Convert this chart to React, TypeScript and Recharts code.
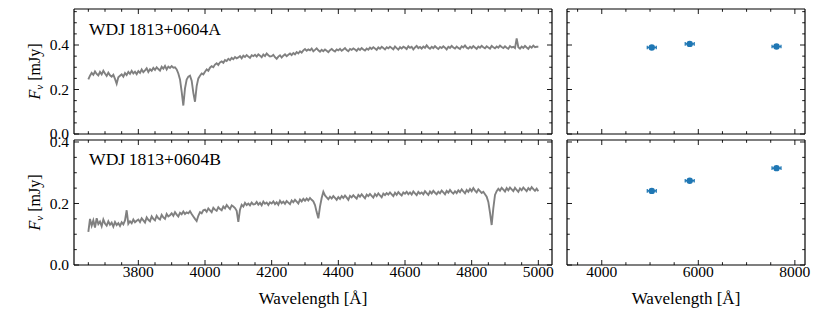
import React from "react";
import { LineChart, Line, ScatterChart, Scatter, XAxis, YAxis } from "recharts";

const FONT = "'Liberation Serif', 'Times New Roman', serif";
const GREY = "#808080";
const BLUE = "#1f77b4";

// Spectra sampled on a uniform grid: 3650 Å + 5 Å * i
const WL_START = 3650;
const WL_STEP = 5;

const fluxA = [
  0.245, 0.262, 0.275, 0.266, 0.281, 0.270, 0.263, 0.279, 0.268, 0.284,
  0.272, 0.261, 0.276, 0.264, 0.258, 0.266, 0.248, 0.226, 0.255, 0.262,
  0.268, 0.258, 0.274, 0.265, 0.279, 0.270, 0.284, 0.272, 0.280, 0.269,
  0.283, 0.275, 0.290, 0.278, 0.286, 0.295, 0.279, 0.291, 0.284, 0.297,
  0.288, 0.300, 0.292, 0.285, 0.302, 0.294, 0.306, 0.290, 0.303, 0.297,
  0.305, 0.298, 0.300, 0.290, 0.272, 0.245, 0.190, 0.128, 0.205, 0.245,
  0.258, 0.262, 0.240, 0.185, 0.145, 0.215, 0.250, 0.262, 0.272, 0.268,
  0.280, 0.290, 0.284, 0.298, 0.305, 0.300, 0.312, 0.318, 0.310, 0.322,
  0.326, 0.320, 0.332, 0.328, 0.338, 0.332, 0.342, 0.336, 0.346, 0.340,
  0.344, 0.350, 0.340, 0.352, 0.346, 0.355, 0.348, 0.342, 0.354, 0.350,
  0.356, 0.348, 0.358, 0.352, 0.345, 0.357, 0.350, 0.362, 0.354, 0.348,
  0.350, 0.356, 0.345, 0.338, 0.348, 0.354, 0.344, 0.352, 0.358, 0.350,
  0.356, 0.362, 0.355, 0.364, 0.358, 0.368, 0.362, 0.372, 0.366, 0.376,
  0.382, 0.374, 0.380, 0.376, 0.384, 0.372, 0.378, 0.385, 0.376, 0.370,
  0.378, 0.372, 0.380, 0.374, 0.368, 0.377, 0.382, 0.375, 0.371, 0.380,
  0.376, 0.383, 0.374, 0.380, 0.386, 0.377, 0.372, 0.382, 0.378, 0.385,
  0.380, 0.374, 0.384, 0.378, 0.386, 0.380, 0.375, 0.384, 0.379, 0.388,
  0.382, 0.390, 0.384, 0.378, 0.389, 0.383, 0.392, 0.386, 0.380, 0.390,
  0.385, 0.392, 0.387, 0.381, 0.393, 0.386, 0.379, 0.390, 0.384, 0.392,
  0.388, 0.382, 0.394, 0.387, 0.392, 0.380, 0.389, 0.396, 0.386, 0.391,
  0.384, 0.393, 0.387, 0.398, 0.389, 0.383, 0.392, 0.386, 0.395, 0.388,
  0.382, 0.391, 0.386, 0.394, 0.388, 0.380, 0.392, 0.387, 0.396, 0.389,
  0.384, 0.393, 0.387, 0.382, 0.394, 0.389, 0.398, 0.388, 0.384, 0.392,
  0.386, 0.395, 0.389, 0.383, 0.393, 0.388, 0.396, 0.390, 0.385, 0.394,
  0.389, 0.384, 0.396, 0.390, 0.385, 0.393, 0.388, 0.397, 0.391, 0.386,
  0.394, 0.388, 0.383, 0.395, 0.389, 0.392, 0.386, 0.430, 0.390, 0.384,
  0.393, 0.387, 0.396, 0.389, 0.383, 0.394, 0.388, 0.397, 0.390, 0.392,
  0.392,
];

const fluxB = [
  0.108, 0.150, 0.128, 0.145, 0.122, 0.152, 0.133, 0.141, 0.126, 0.148,
  0.135, 0.128, 0.142, 0.131, 0.138, 0.125, 0.140, 0.130, 0.136, 0.127,
  0.139, 0.132, 0.145, 0.178, 0.134, 0.142, 0.136, 0.148, 0.139, 0.144,
  0.148, 0.140, 0.152, 0.145, 0.138, 0.155, 0.147, 0.142, 0.158, 0.150,
  0.145, 0.160, 0.152, 0.148, 0.163, 0.155, 0.150, 0.166, 0.158, 0.162,
  0.168, 0.160, 0.172, 0.164, 0.158, 0.170, 0.165, 0.174, 0.166, 0.171,
  0.168, 0.175, 0.166, 0.158, 0.150, 0.143, 0.160, 0.172, 0.168, 0.178,
  0.180, 0.173, 0.184, 0.178, 0.172, 0.186, 0.180, 0.176, 0.188, 0.182,
  0.178, 0.190, 0.184, 0.195, 0.188, 0.182, 0.194, 0.190, 0.185, 0.176,
  0.140, 0.180, 0.196, 0.190, 0.202, 0.195, 0.200, 0.194, 0.203, 0.197,
  0.198, 0.205, 0.196, 0.202, 0.194, 0.206, 0.199, 0.203, 0.195, 0.204,
  0.200, 0.207, 0.198, 0.204, 0.196, 0.209, 0.201, 0.206, 0.199, 0.208,
  0.203, 0.198, 0.210, 0.204, 0.212, 0.206, 0.200, 0.213, 0.207, 0.215,
  0.209, 0.216, 0.210, 0.218, 0.212, 0.207, 0.195, 0.172, 0.152, 0.190,
  0.218, 0.238, 0.226, 0.220, 0.214, 0.222, 0.216, 0.224, 0.218, 0.212,
  0.221, 0.215, 0.224, 0.218, 0.226, 0.219, 0.212, 0.225, 0.220, 0.227,
  0.221, 0.216, 0.228, 0.222, 0.230, 0.223, 0.217, 0.229, 0.224, 0.231,
  0.225, 0.219, 0.231, 0.224, 0.233, 0.226, 0.220, 0.232, 0.227, 0.234,
  0.229, 0.236, 0.230, 0.224, 0.235, 0.228, 0.237, 0.231, 0.226, 0.236,
  0.232, 0.238, 0.230, 0.236, 0.229, 0.239, 0.233, 0.227, 0.238, 0.232,
  0.236, 0.230, 0.240, 0.234, 0.228, 0.239, 0.233, 0.241, 0.235, 0.230,
  0.238, 0.233, 0.242, 0.236, 0.230, 0.241, 0.235, 0.244, 0.237, 0.232,
  0.240, 0.234, 0.243, 0.237, 0.246, 0.239, 0.233, 0.244, 0.238, 0.247,
  0.240, 0.250, 0.242, 0.236, 0.246, 0.240, 0.234, 0.238, 0.230, 0.222,
  0.205, 0.170, 0.130, 0.185, 0.228, 0.240, 0.248, 0.242, 0.251, 0.245,
  0.239, 0.250, 0.243, 0.252, 0.246, 0.240, 0.251, 0.244, 0.238, 0.249,
  0.243, 0.252, 0.246, 0.240, 0.250, 0.244, 0.253, 0.247, 0.241, 0.248,
  0.240,
];

// Gaia photometry (BP, G, RP)
const photWl = [5036, 5822, 7620];
const photA = [0.389, 0.405, 0.393];
const photB = [0.241, 0.274, 0.315];

const starNames = ["WDJ\u20091813+0604A", "WDJ\u20091813+0604B"];

// Tick definitions
const specMajorX = [3800, 4000, 4200, 4400, 4600, 4800, 5000];
const photMajorX = [4000, 6000, 8000];
const majorY = [0.0, 0.2, 0.4];

const specDomain: [number, number] = [3607, 5041];
const photDomain: [number, number] = [3280, 8210];
const yDomainTop: [number, number] = [0, 0.5618];
const yDomainBottom: [number, number] = [0, 0.4065];

const range = (a: number, b: number, s: number) => {
  const out: number[] = [];
  for (let v = a; v <= b + 1e-9; v += s) out.push(Math.round(v * 1000) / 1000);
  return out;
};
const specTicksX = range(3650, 5000, 50);
const photTicksX = range(3500, 8000, 500);
const yTicksTop = range(0, 0.55, 0.05);
const yTicksBottom = range(0, 0.4, 0.05);

const toSpec = (arr: number[]) =>
  arr.map((f, i) => ({ w: WL_START + i * WL_STEP, f }));
const specA = toSpec(fluxA);
const specB = toSpec(fluxB);
const photDataA = photWl.map((w, i) => ({ w, f: photA[i] }));
const photDataB = photWl.map((w, i) => ({ w, f: photB[i] }));

type Side = "bottom" | "top" | "left" | "right";

const makeTick =
  (side: Side, majors: number[], showLabels: boolean, fmt: (v: number) => string) =>
  (props: any) => {
    const { x, y, payload } = props;
    const v = payload.value;
    const major = majors.some((m) => Math.abs(m - v) < 1e-6);
    const len = major ? 5 : 2.8;
    let x2 = x;
    let y2 = y;
    if (side === "bottom") y2 = y - len;
    else if (side === "top") y2 = y + len;
    else if (side === "left") x2 = x + len;
    else x2 = x - len;
    return (
      <g>
        <line x1={x} y1={y} x2={x2} y2={y2} stroke="#000" strokeWidth={0.9} />
        {showLabels && major && side === "bottom" && (
          <text x={x} y={y + 12} textAnchor="middle" fontFamily={FONT} fontSize={15.5} fill="#000">
            {fmt(v)}
          </text>
        )}
        {showLabels && major && side === "left" && (
          <text x={x - 5} y={y} dy="0.35em" textAnchor="end" fontFamily={FONT} fontSize={15.5} fill="#000">
            {fmt(v)}
          </text>
        )}
      </g>
    );
  };

const fmtX = (v: number) => String(v);
const fmtY = (v: number) => v.toFixed(1);
const axisLine = { stroke: "#000", strokeWidth: 1.2 };

const PhotShape = (p: any) => {
  const { cx, cy } = p;
  return (
    <g>
      <line x1={cx - 4.5} x2={cx + 4.5} y1={cy} y2={cy} stroke={BLUE} strokeWidth={1.6} />
      <line x1={cx - 4.5} x2={cx - 4.5} y1={cy - 1.8} y2={cy + 1.8} stroke={BLUE} strokeWidth={1.2} />
      <line x1={cx + 4.5} x2={cx + 4.5} y1={cy - 1.8} y2={cy + 1.8} stroke={BLUE} strokeWidth={1.2} />
      <circle cx={cx} cy={cy} r={3.2} fill={BLUE} />
    </g>
  );
};

const axisCommon = {
  interval: 0 as const,
  allowDataOverflow: true,
  tickSize: 0,
  tickMargin: 0,
  tickLine: false,
  axisLine,
};

function renderAxes(
  xDomain: [number, number],
  xTicks: number[],
  xMajors: number[],
  yDomain: [number, number],
  yTicks: number[],
  xLabels: boolean,
  yLabels: boolean
) {
  return [
    <XAxis
      key="xb"
      xAxisId="b"
      dataKey="w"
      type="number"
      domain={xDomain}
      ticks={xTicks}
      height={1}
      {...axisCommon}
      tick={makeTick("bottom", xMajors, xLabels, fmtX)}
    />,
    <XAxis
      key="xt"
      xAxisId="t"
      orientation="top"
      dataKey="w"
      type="number"
      domain={xDomain}
      ticks={xTicks}
      height={1}
      {...axisCommon}
      tick={makeTick("top", xMajors, false, fmtX)}
    />,
    <YAxis
      key="yl"
      yAxisId="l"
      dataKey="f"
      type="number"
      domain={yDomain}
      ticks={yTicks}
      width={1}
      {...axisCommon}
      tick={makeTick("left", majorY, yLabels, fmtY)}
    />,
    <YAxis
      key="yr"
      yAxisId="r"
      orientation="right"
      dataKey="f"
      type="number"
      domain={yDomain}
      ticks={yTicks}
      width={1}
      {...axisCommon}
      tick={makeTick("right", majorY, false, fmtY)}
    />,
  ];
}

function SpecPanel({ data, yDomain, yTicks, xLabels, style, margin, width, height }: any) {
  return (
    <div style={{ position: "absolute", ...style }}>
      <LineChart width={width} height={height} data={data} margin={margin}>
        {renderAxes(specDomain, specTicksX, specMajorX, yDomain, yTicks, xLabels, true)}
        <Line
          xAxisId="b"
          yAxisId="l"
          type="linear"
          dataKey="f"
          stroke={GREY}
          strokeWidth={1.9}
          strokeLinejoin="miter"
          dot={false}
          activeDot={false}
          isAnimationActive={false}
        />
      </LineChart>
    </div>
  );
}

function PhotPanel({ data, yDomain, yTicks, xLabels, style, margin, width, height }: any) {
  return (
    <div style={{ position: "absolute", ...style }}>
      <ScatterChart width={width} height={height} margin={margin}>
        {renderAxes(photDomain, photTicksX, photMajorX, yDomain, yTicks, xLabels, false)}
        <Scatter
          xAxisId="b"
          yAxisId="l"
          data={data}
          dataKey="f"
          fill={BLUE}
          shape={PhotShape}
          isAnimationActive={false}
        />
      </ScatterChart>
    </div>
  );
}

function YLabel({ x, y }: { x: number; y: number }) {
  return (
    <text
      transform={`translate(${x},${y}) rotate(-90)`}
      textAnchor="middle"
      fontFamily={FONT}
      fontSize={16}
      fill="#000"
    >
      <tspan fontStyle="italic">F</tspan>
      <tspan fontStyle="italic" fontSize={11} dy={3}>
        ν
      </tspan>
      <tspan dy={-3}> [mJy]</tspan>
    </text>
  );
}

export default function App() {
  // plot areas: left panels x 74..552, right panels x 567..805; top y 9..134, bottom y 140..265
  const topMargin = { top: 8, right: 7, bottom: 11, left: 73 };
  const botMargin = { top: 11, right: 7, bottom: 46, left: 73 };
  const topMarginR = { top: 8, right: 24, bottom: 11, left: 6 };
  const botMarginR = { top: 11, right: 24, bottom: 46, left: 6 };
  return (
    <div
      style={{
        position: "fixed",
        left: 0,
        top: 0,
        width: 830,
        height: 312,
        background: "#fff",
        overflow: "hidden",
      }}
    >
      <SpecPanel
        data={specA}
        yDomain={yDomainTop}
        yTicks={yTicksTop}
        xLabels={false}
        style={{ left: 0, top: 0 }}
        width={560}
        height={146}
        margin={topMargin}
      />
      <SpecPanel
        data={specB}
        yDomain={yDomainBottom}
        yTicks={yTicksBottom}
        xLabels={true}
        style={{ left: 0, top: 128 }}
        width={560}
        height={184}
        margin={botMargin}
      />
      <PhotPanel
        data={photDataA}
        yDomain={yDomainTop}
        yTicks={yTicksTop}
        xLabels={false}
        style={{ left: 560, top: 0 }}
        width={270}
        height={146}
        margin={topMarginR}
      />
      <PhotPanel
        data={photDataB}
        yDomain={yDomainBottom}
        yTicks={yTicksBottom}
        xLabels={true}
        style={{ left: 560, top: 128 }}
        width={270}
        height={184}
        margin={botMarginR}
      />
      <svg
        width={830}
        height={312}
        style={{ position: "absolute", left: 0, top: 0, pointerEvents: "none" }}
      >
        <text x={89} y={34.5} fontFamily={FONT} fontSize={16.5} textLength={132} lengthAdjust="spacingAndGlyphs" fill="#000">
          {starNames[0]}
        </text>
        <text x={89} y={164.5} fontFamily={FONT} fontSize={16.5} textLength={132} lengthAdjust="spacingAndGlyphs" fill="#000">
          {starNames[1]}
        </text>
        <YLabel x={39.5} y={71.5} />
        <YLabel x={39.5} y={202.5} />
        <text x={313} y={304} textAnchor="middle" fontFamily={FONT} fontSize={17} fill="#000">
          Wavelength [Å]
        </text>
        <text x={686} y={304} textAnchor="middle" fontFamily={FONT} fontSize={17} fill="#000">
          Wavelength [Å]
        </text>
      </svg>
    </div>
  );
}
